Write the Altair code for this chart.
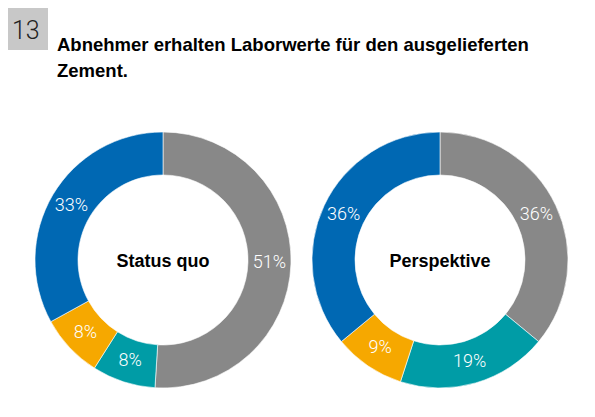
import altair as alt
import pandas as pd

# ---- data ----
categories = ["Segment 1", "Segment 2", "Segment 3", "Segment 4"]
status_quo = [51, 8, 8, 33]
perspektive = [36, 19, 9, 36]
panel_titles = ["Status quo", "Perspektive"]
chart_number = "13"
title_lines = ["Abnehmer erhalten Laborwerte für den ausgelieferten", "Zement."]

colors = ["#888888", "#009ca6", "#f6a800", "#0068b3"]

rows = []
for panel, vals in zip(panel_titles, [status_quo, perspektive]):
    for i, (c, v) in enumerate(zip(categories, vals)):
        rows.append({"panel": panel, "cat": c, "value": v, "idx": i, "label": f"{v}%"})
df = pd.DataFrame(rows)

W, H = 579, 401
OUTER, INNER = 128, 85
centers = {"Status quo": (155, 252), "Perspektive": (432, 252)}

color_scale = alt.Scale(domain=categories, range=colors)

layers = []

# number box
box_df = pd.DataFrame({"num": [chart_number]})
layers.append(
    alt.Chart(box_df).mark_rect(color="#c8c8c8").encode(
        x=alt.value(0), x2=alt.value(40), y=alt.value(0), y2=alt.value(42)
    )
)
layers.append(
    alt.Chart(box_df).mark_text(
        font="Roboto", fontWeight=300, fontSize=25, color="#222222",
        align="left", baseline="alphabetic"
    ).encode(text="num:N", x=alt.value(4), y=alt.value(31))
)

# title lines
title_df = pd.DataFrame({"line": title_lines, "row": list(range(len(title_lines)))})
layers.append(
    alt.Chart(title_df).mark_text(
        font="Liberation Sans", fontWeight="bold", fontSize=18.5, color="#000000",
        align="left", baseline="alphabetic"
    ).encode(
        text="line:N",
        x=alt.value(49),
        y=alt.Y("row:Q", axis=None, scale=alt.Scale(domain=[0, 1], range=[43, 69]))
    )
)

for panel in panel_titles:
    cx, cy = centers[panel]
    base = alt.Chart(df).transform_filter(alt.datum.panel == panel).encode(
        theta=alt.Theta("value:Q", stack=True),
        order=alt.Order("idx:Q", sort="ascending"),
        color=alt.Color("cat:N", scale=color_scale, legend=None),
    )
    arc = base.mark_arc(
        innerRadius=INNER, outerRadius=OUTER, stroke="#ffffff", strokeWidth=0.6
    ).encode(x=alt.value(cx), y=alt.value(cy))
    txt = base.mark_text(
        radius=(INNER + OUTER) / 2, font="Roboto", fontWeight=300, fontSize=18,
        color="#ffffff", baseline="middle", align="center"
    ).encode(text="label:N", x=alt.value(cx), y=alt.value(cy), color=alt.value("#ffffff"))
    center = alt.Chart(pd.DataFrame({"t": [panel]})).mark_text(
        font="Liberation Sans", fontWeight="bold", fontSize=18, color="#000000",
        align="center", baseline="alphabetic"
    ).encode(text="t:N", x=alt.value(cx), y=alt.value(cy + 7))
    layers += [arc, txt, center]

chart = alt.layer(*layers).resolve_scale(
    theta="independent", y="independent"
).properties(
    width=W, height=H, autosize=alt.AutoSizeParams(type="none"), padding=0,
    background="#ffffff"
).configure_view(stroke=None)

chart.save("out.html", embed_options={"renderer": "svg", "actions": False})
